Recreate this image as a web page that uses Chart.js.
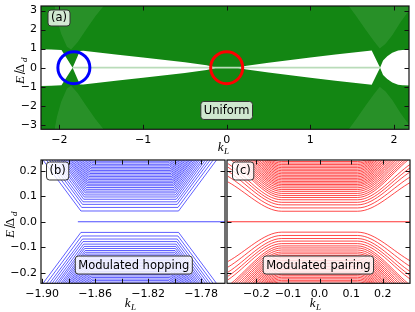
<!DOCTYPE html>
<html lang="en">
<head>
<meta charset="UTF-8" />
<title>Spectra</title>
<script src="https://cdn.jsdelivr.net/npm/chart.js@4.4.1/dist/chart.umd.min.js"></script>
<style>
  body { margin: 0; background: #fff; }
  #wrap { position: relative; width: 415px; height: 312px; overflow: hidden; }
  canvas { position: absolute; }
</style>
</head>
<body>
<div id="wrap">
  <canvas id="chartA" width="415" height="156" style="left:0;top:0"></canvas>
  <canvas id="chartB" width="226" height="162" style="left:0;top:150px"></canvas>
  <canvas id="chartC" width="189" height="162" style="left:226px;top:150px"></canvas>
</div>
<script>
// ---- panel (a): uniform ----
const kTicksA = [-2, -1, 0, 1, 2];
const kLabelsA = ['\u22122', '\u22121', '0', '1', '2'];
const eTicksA = [-3, -2, -1, 0, 1, 2, 3];
const eLabelsA = ['\u22123', '\u22122', '\u22121', '0', '1', '2', '3'];
// upper edge of the white gap (lower edge is the mirror)
const gapK = [-2.22, -2.1, -1.975, -1.842, -1.755, -1.715, -1.3, -1.0, -0.5, -0.24, -0.12,
  0.12, 0.24, 0.5, 1.0, 1.3, 1.734, 1.834, 1.87, 1.92, 1.98, 2.05, 2.1, 2.18];
const gapTop = [0.97, 0.95, 0.93, 0, 0.88, 0.89, 0.68, 0.53, 0.28, 0.12, 0,
  0, 0.1, 0.26, 0.53, 0.69, 0.9, 0, 0.38, 0.6, 0.78, 0.9, 0.93, 0.94];
// zero mode between the two crossings
const zeroK = [-1.842, 1.834];
// lighter sheets in the band continuum (upper ones, lower ones mirrored)
const sheetLK = [-2.06, -2.03, -1.98, -1.91, -1.86, -1.78, -1.68, -1.57, -1.46];
const sheetLE = [3.3, 2.6, 1.8, 1.1, 0.95, 1.35, 2.0, 2.7, 3.3];
const sheetRK = [1.45, 1.55, 1.66, 1.76, 1.83, 1.9, 1.98, 2.08, 2.18];
const sheetRE = [3.3, 2.7, 2.0, 1.4, 1.0, 1.25, 1.7, 2.4, 3.0];
const blueRingK = -1.827, redRingK = 0;

// ---- panel (b): modulated hopping ----
const kTicksB = [-1.90, -1.86, -1.82, -1.78];
const kLabelsB = ['\u22121.90', '\u22121.86', '\u22121.82', '\u22121.78'];
const kMarksB = [-1.90, -1.88, -1.86, -1.84, -1.82, -1.80, -1.78];
const eTicksB = [-0.2, -0.1, 0, 0.1, 0.2];
const eLabelsB = ['\u22120.2', '\u22120.1', '0.0', '0.1', '0.2'];
const edgeB = 0.242;
const levelsB = [0.042, 0.056, 0.068, 0.078, 0.088, 0.097, 0.105, 0.113, 0.120, 0.127, 0.134, 0.141, 0.147, 0.153,
  0.159, 0.165, 0.171, 0.177, 0.183, 0.189, 0.195, 0.201, 0.207, 0.213, 0.219, 0.225, 0.231, 0.237];
const leftTopB = [-1.8993, -1.8967, -1.8944, -1.8925, -1.8906, -1.8889, -1.8875, -1.8859, -1.8846, -1.8833, -1.8820,
  -1.8807, -1.8796, -1.8784, -1.8774, -1.8762, -1.8750, -1.8740, -1.8728, -1.8717, -1.8706, -1.8695, -1.8683,
  -1.8672, -1.8661, -1.8649, -1.8639, -1.8627];
const leftCornerB = [-1.8707, -1.8701, -1.8695, -1.8691, -1.8686, -1.8682, -1.8679, -1.8675, -1.8672, -1.8669,
  -1.8666, -1.8663, -1.8660, -1.8657, -1.8655, -1.8652, -1.8649, -1.8647, -1.8644, -1.8641, -1.8639, -1.8636,
  -1.8633, -1.8631, -1.8628, -1.8625, -1.8623, -1.8620];
const rightCornerB = [-1.7970, -1.7975, -1.7980, -1.7984, -1.7988, -1.7991, -1.7994, -1.7997, -1.8000, -1.8003,
  -1.8005, -1.8008, -1.8010, -1.8013, -1.8015, -1.8017, -1.8020, -1.8022, -1.8024, -1.8027, -1.8029, -1.8031,
  -1.8033, -1.8036, -1.8038, -1.8040, -1.8043, -1.8045];
const rightTopB = [-1.7684, -1.7709, -1.7731, -1.7750, -1.7768, -1.7784, -1.7798, -1.7813, -1.7826, -1.7839,
  -1.7851, -1.7864, -1.7874, -1.7886, -1.7896, -1.7907, -1.7919, -1.7929, -1.7940, -1.7951, -1.7962, -1.7972,
  -1.7983, -1.7995, -1.8005, -1.8016, -1.8027, -1.8038];
const zeroKB = [-1.873, -1.76];

// ---- panel (c): modulated pairing ----
const kTicksC = [-0.2, -0.1, 0, 0.1, 0.2];
const kLabelsC = ['\u22120.2', '\u22120.1', '0.0', '0.1', '0.2'];
const sideKC = 0.29, plateauC = 0.12;
const levelsC = [0.041, 0.054, 0.066, 0.076, 0.086, 0.095, 0.103, 0.111, 0.119, 0.126, 0.133, 0.140, 0.146, 0.152,
  0.158, 0.164, 0.170, 0.176, 0.182, 0.188, 0.194, 0.200, 0.206, 0.212, 0.218, 0.224, 0.230, 0.236];
const sideC = [0.156, 0.178, 0.198, 0.214, 0.228, 0.252, 0.260, 0.269, 0.279, 0.288, 0.298, 0.306, 0.316, 0.325,
  0.336, 0.347, 0.355, 0.363, 0.371, 0.379, 0.387, 0.393, 0.399, 0.401, 0.401, 0.393, 0.380, 0.370];
const zeroKC = [-0.3, 0.3];

Chart.defaults.font.family = '"DejaVu Sans", sans-serif';
Chart.defaults.font.size = 11;
Chart.defaults.color = '#000';
Chart.defaults.animation = false;
Chart.defaults.events = [];
Chart.defaults.plugins.legend.display = false;
Chart.defaults.plugins.tooltip.enabled = false;
Chart.defaults.elements.point.radius = 0;

const green = '#138613';
const sheet = 'rgba(255,255,255,0.09)';
const blueLine = 'rgba(0,0,255,0.7)';
const redLine = 'rgba(255,0,0,0.8)';
const serif = '"Liberation Serif", serif';

function axis(min, max, ticks, labels, size, pad, display = true) {
  return {
    type: 'linear', min, max, display,
    grid: { display: false, drawTicks: false },
    border: { display: false },
    ticks: { padding: pad, autoSkip: false, maxRotation: 0, callback: (v, i) => labels[i] },
    afterBuildTicks: s => { s.ticks = ticks.map(v => ({ value: v })); },
    afterFit: s => {
      if (s.isHorizontal()) s.height = size; else s.width = size;
      s.paddingTop = s.paddingBottom = s.paddingLeft = s.paddingRight = 0;
    }
  };
}

function mathText(ctx, parts, cx, cy, rotate) {
  ctx.save();
  ctx.translate(cx, cy);
  if (rotate) ctx.rotate(-Math.PI / 2);
  ctx.fillStyle = '#000';
  ctx.textBaseline = 'alphabetic';
  let w = 0;
  parts.forEach(p => { ctx.font = p.f; w += ctx.measureText(p.t).width; });
  let x = -w / 2;
  parts.forEach(p => { ctx.font = p.f; ctx.fillText(p.t, x, p.dy || 0); x += ctx.measureText(p.t).width; });
  ctx.restore();
}
const eTitle = [
  { t: 'E', f: 'italic 13px ' + serif }, { t: '/', f: '12px "DejaVu Serif", serif' },
  { t: '\u0394', f: '13px ' + serif }, { t: 'd', f: 'italic 9px ' + serif, dy: 3 }];
const kTitle = [{ t: 'k', f: 'italic 13px ' + serif }, { t: 'L', f: 'italic 9px ' + serif, dy: 3 }];

// frame, inward tick marks, axis titles, label boxes
const framePlugin = {
  id: 'frame',
  afterDatasetsDraw(chart, args, o) {
    const { ctx, chartArea: a, scales: { x, y } } = chart;
    ctx.save();
    ctx.strokeStyle = '#111';
    ctx.lineWidth = 1;
    ctx.beginPath();
    o.xMarks.forEach(v => {
      const p = Math.round(x.getPixelForValue(v)) + 0.5;
      ctx.moveTo(p, a.bottom); ctx.lineTo(p, a.bottom - 4.5);
      ctx.moveTo(p, a.top); ctx.lineTo(p, a.top + 4.5);
    });
    o.yMarks.forEach(v => {
      const p = Math.round(y.getPixelForValue(v)) + 0.5;
      ctx.moveTo(a.left, p); ctx.lineTo(a.left + 4.5, p);
      ctx.moveTo(a.right, p); ctx.lineTo(a.right - 4.5, p);
    });
    ctx.stroke();

    ctx.font = '11.5px "DejaVu Sans", sans-serif';
    ctx.textBaseline = 'middle';
    ctx.textAlign = 'center';
    o.boxes.forEach(b => {
      const tw = ctx.measureText(b.text).width;
      const w = tw + 6, h = b.h;
      let cx, cy;
      if (b.corner) { cx = a.left + b.dx + w / 2; cy = a.top + b.dy + h / 2; }
      else { cx = x.getPixelForValue(b.kx); cy = y.getPixelForValue(b.ey); }
      ctx.beginPath();
      ctx.roundRect(cx - w / 2, cy - h / 2, w, h, 3);
      ctx.fillStyle = 'rgba(255,255,255,0.8)';
      ctx.fill();
      ctx.strokeStyle = '#333';
      ctx.stroke();
      ctx.fillStyle = '#000';
      ctx.fillText(b.text, cx, cy + 0.5);
    });

    ctx.strokeStyle = '#111';
    ctx.lineWidth = 1.2;
    ctx.strokeRect(a.left, a.top, a.width, a.height);
    if (o.yTitle) mathText(ctx, eTitle, o.yTitle[0], o.yTitle[1], true);
    mathText(ctx, kTitle, o.xTitle[0], o.xTitle[1], false);
    ctx.restore();
  }
};

const pts = (ks, es, sign = 1) => ks.map((k, i) => ({ x: k, y: sign * es[i] }));
const flat = (ks, e) => ks.map(k => ({ x: k, y: e }));

// ---- chart (a) ----
const fillSet = (data, fill, color, order) => ({
  data, fill, backgroundColor: color, borderColor: 'rgba(0,0,0,0)', borderWidth: 0, tension: 0, order
});
const ring = (k, color) => ({
  data: [{ x: k, y: 0 }], showLine: false, pointRadius: 16, pointBorderWidth: 3,
  pointBorderColor: color, pointBackgroundColor: 'rgba(0,0,0,0)', order: 0, clip: false
});
new Chart(document.getElementById('chartA'), {
  type: 'line',
  data: {
    datasets: [
      ring(blueRingK, '#0000ff'),
      ring(redRingK, '#ff0000'),
      { data: flat(zeroK, 0), borderColor: '#b9dcb9', borderWidth: 1.6, order: 1 },
      fillSet(pts(sheetLK, sheetLE), 'end', sheet, 5),
      fillSet(pts(sheetLK, sheetLE, -1), 'start', sheet, 5),
      fillSet(pts(sheetRK, sheetRE), 'end', sheet, 5),
      fillSet(pts(sheetRK, sheetRE, -1), 'start', sheet, 5),
      fillSet(pts(gapK, gapTop), 'end', green, 10),
      fillSet(pts(gapK, gapTop, -1), 'start', green, 10)
    ]
  },
  options: {
    responsive: false,
    layout: { padding: { left: 0, right: 6, top: 6, bottom: 0 }, autoPadding: false },
    scales: {
      x: axis(-2.22, 2.18, kTicksA, kLabelsA, 26.7, 4),
      y: axis(-3.24, 3.24, eTicksA, eLabelsA, 41, 4)
    },
    plugins: {
      frame: {
        xMarks: kTicksA, yMarks: eTicksA, yTitle: [24, 67.7], xTitle: [226, 151],
        boxes: [
          { text: '(a)', corner: true, dx: 7, dy: 4, h: 16 },
          { text: 'Uniform', kx: 0, ey: -2.25, h: 18 }
        ]
      }
    }
  },
  plugins: [framePlugin]
});

// ---- chart (b) ----
function bandsB(sign) {
  return levelsB.map((e, i) => ({
    data: [
      { x: leftTopB[i], y: sign * edgeB }, { x: leftCornerB[i], y: sign * e },
      { x: rightCornerB[i], y: sign * e }, { x: rightTopB[i], y: sign * edgeB }],
    borderColor: blueLine, borderWidth: 0.9, tension: 0
  }));
}
new Chart(document.getElementById('chartB'), {
  type: 'line',
  data: {
    datasets: [
      { data: flat(zeroKB, 0), borderColor: blueLine, borderWidth: 1.1 },
      ...bandsB(1), ...bandsB(-1)
    ]
  },
  options: {
    responsive: false,
    layout: { padding: { left: 0, right: 1, top: 10, bottom: 0 }, autoPadding: false },
    scales: {
      x: axis(-1.9008, -1.762, kTicksB, kLabelsB, 28.7, 4),
      y: axis(-0.2416, 0.242, eTicksB, eLabelsB, 41, 4)
    },
    plugins: {
      frame: {
        xMarks: kMarksB, yMarks: eTicksB, yTitle: [14, 71.7], xTitle: [133, 157],
        boxes: [
          { text: '(b)', corner: true, dx: 5.5, dy: 2, h: 18 },
          { text: 'Modulated hopping', kx: -1.8308, ey: -0.17, h: 18 }
        ]
      }
    }
  },
  plugins: [framePlugin]
});

// ---- chart (c) ----
function bandsC(sign) {
  return levelsC.map((e, i) => ({
    data: [
      { x: -sideKC, y: sign * sideC[i] }, { x: -plateauC, y: sign * e },
      { x: plateauC, y: sign * e }, { x: sideKC, y: sign * sideC[i] }],
    borderColor: redLine, borderWidth: 0.9, cubicInterpolationMode: 'monotone'
  }));
}
new Chart(document.getElementById('chartC'), {
  type: 'line',
  data: {
    datasets: [
      { data: flat(zeroKC, 0), borderColor: redLine, borderWidth: 1.1 },
      ...bandsC(1), ...bandsC(-1)
    ]
  },
  options: {
    responsive: false,
    layout: { padding: { left: 1, right: 5, top: 10, bottom: 0 }, autoPadding: false },
    scales: {
      x: axis(-0.293, 0.286, kTicksC, kLabelsC, 28.7, 4),
      y: axis(-0.2416, 0.242, eTicksB, eLabelsB, 0, 4, false)
    },
    plugins: {
      frame: {
        xMarks: kTicksC, yMarks: eTicksB, xTitle: [92, 157],
        boxes: [
          { text: '(c)', corner: true, dx: 5.5, dy: 2, h: 18 },
          { text: 'Modulated pairing', kx: -0.004, ey: -0.17, h: 18 }
        ]
      }
    }
  },
  plugins: [framePlugin]
});
</script>
</body>
</html>
